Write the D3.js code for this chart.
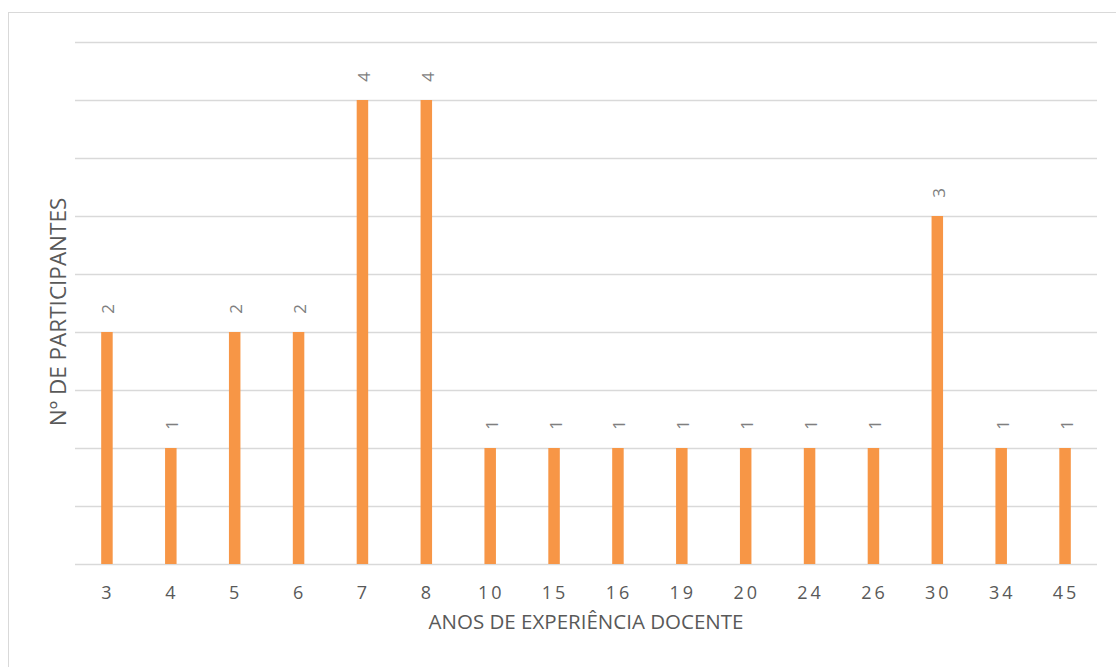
<!DOCTYPE html>
<html>
<head>
<meta charset="utf-8">
<script src="https://cdn.jsdelivr.net/npm/d3@7"></script>
<style>
  body { margin: 0; background: #fff; }
  text { font-family: "Open Sans", "Lato", sans-serif; }
</style>
</head>
<body>
<div class="chart"></div>
<script>
let years = ['3', '4', '5', '6', '7', '8', '10', '15', '16', '19', '20', '24', '26', '30', '34', '45'];
let participants = [2, 1, 2, 2, 4, 4, 1, 1, 1, 1, 1, 1, 1, 3, 1, 1];
let gridTicks = [0, 0.5, 1, 1.5, 2, 2.5, 3, 3.5, 4, 4.5];

let svg = d3.select('.chart')
  .append('svg')
  .attr('width', 1116)
  .attr('height', 667);

// chart border
svg.append('rect')
  .attr('x', 8.5)
  .attr('y', 12.5)
  .attr('width', 1130)
  .attr('height', 680)
  .attr('fill', 'none')
  .attr('stroke', '#d9d9d9')
  .attr('stroke-width', 1);

let plotLeft = 75, plotRight = 1097, plotTop = 42, plotBottom = 564;

let x = d3.scaleBand()
  .domain(years)
  .range([plotLeft, plotRight])
  .paddingInner(0)
  .paddingOuter(0);

let y = d3.scaleLinear()
  .domain([0, 4.5])
  .range([plotBottom, plotTop]);

svg.append('g')
  .selectAll('line')
  .data(gridTicks)
  .join('line')
  .attr('x1', plotLeft)
  .attr('x2', plotRight)
  .attr('y1', d => Math.round(y(d)) + 0.5)
  .attr('y2', d => Math.round(y(d)) + 0.5)
  .attr('stroke', '#d9d9d9')
  .attr('stroke-width', 1.5);

let barW = 11.5;

svg.append('g')
  .selectAll('rect')
  .data(participants)
  .join('rect')
  .attr('x', (d, i) => x(years[i]) + x.bandwidth() / 2 - barW / 2)
  .attr('y', d => y(d))
  .attr('width', barW)
  .attr('height', d => plotBottom - y(d))
  .attr('fill', '#f79646');

// data labels, rotated
svg.append('g')
  .selectAll('text')
  .data(participants)
  .join('text')
  .attr('transform', (d, i) =>
    `translate(${x(years[i]) + x.bandwidth() / 2 + 1},${y(d) - 23}) rotate(-90)`)
  .attr('text-anchor', 'middle')
  .attr('dominant-baseline', 'central')
  .attr('fill', '#7f7f7f')
  .attr('font-size', '17px')
  .text(d => d);

// x axis tick labels
svg.append('g')
  .selectAll('text')
  .data(years)
  .join('text')
  .attr('x', d => x(d) + x.bandwidth() / 2 + 1)
  .attr('y', 592)
  .attr('text-anchor', 'middle')
  .attr('dominant-baseline', 'central')
  .attr('fill', '#595959')
  .attr('font-size', '18px')
  .attr('letter-spacing', '3px')
  .text(d => d);

// axis titles
svg.append('text')
  .attr('x', (plotLeft + plotRight) / 2)
  .attr('y', 621)
  .attr('text-anchor', 'middle')
  .attr('dominant-baseline', 'central')
  .attr('fill', '#595959')
  .attr('font-size', '20.5px')
  .text('ANOS DE EXPERIÊNCIA DOCENTE');

svg.append('text')
  .attr('transform', `translate(57,${(plotTop + plotBottom) / 2 + 9}) rotate(-90)`)
  .attr('text-anchor', 'middle')
  .attr('dominant-baseline', 'central')
  .attr('fill', '#595959')
  .attr('font-size', '22.5px')
  .text('Nº DE PARTICIPANTES');
</script>
</body>
</html>
